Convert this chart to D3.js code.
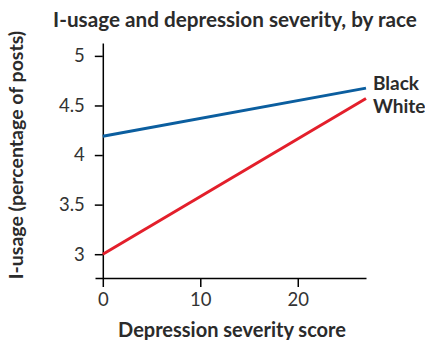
<!DOCTYPE html>
<html>
<head>
<meta charset="utf-8">
<script src="https://cdn.jsdelivr.net/npm/d3@7"></script>
<style>
  body { margin: 0; background: #fff; }
  text { font-family: Lato, sans-serif; fill: #2b2b2b; }
  .axis path, .axis line { stroke: #000; stroke-width: 1.5; }
  .axis text { font-size: 18.5px; fill: #333; }
</style>
</head>
<body>
<div id="chart"></div>
<script>
// DATA
const races = ["Black", "White"];
const severity = [0, 27];
const blackUsage = [4.19, 4.675];
const whiteUsage = [3.0, 4.57];
const xTicks = [0, 10, 20];
const yTicks = [3, 3.5, 4, 4.5, 5];
const lineColors = ["#0b5e9f", "#e31f2b"];

const width = 425, height = 340;
const margin = { top: 43, right: 59, bottom: 62, left: 95 };

const svg = d3.select("#chart").append("svg")
    .attr("width", width)
    .attr("height", height);

const x = d3.scaleLinear()
    .domain([-0.8, 27])
    .range([margin.left, width - margin.right]);

const y = d3.scaleLinear()
    .domain([2.76, 5.13])
    .range([height - margin.bottom, margin.top]);

// AXES
svg.append("g")
    .attr("class", "axis")
    .attr("transform", `translate(0, ${y(2.76)})`)
    .call(d3.axisBottom(x).tickValues(xTicks).tickSize(9).tickSizeOuter(0).tickPadding(4))
    .selectAll("text").attr("dy", "0.8em");

svg.append("g")
    .attr("class", "axis")
    .attr("transform", `translate(${x(0)}, 0)`)
    .call(d3.axisLeft(y).tickValues(yTicks).tickSize(8).tickSizeOuter(0).tickPadding(10).tickFormat(d3.format("")));

// LINES
const series = [blackUsage, whiteUsage];
const line = d3.line()
    .x((d, i) => x(severity[i]))
    .y(d => y(d));

svg.selectAll(".race-line")
    .data(series)
    .enter().append("path")
    .attr("class", "race-line")
    .attr("d", d => line(d))
    .attr("fill", "none")
    .attr("stroke", (d, i) => lineColors[i])
    .attr("stroke-width", 3);

// LABELS
svg.selectAll(".race-label")
    .data(races)
    .enter().append("text")
    .attr("class", "race-label")
    .attr("x", x(27) + 7)
    .attr("y", (d, i) => i === 0 ? 90 : 113)
    .style("font-size", "19px")
    .style("font-weight", "bold")
    .text(d => d);

svg.append("text")
    .attr("x", 235)
    .attr("y", 27)
    .attr("text-anchor", "middle")
    .style("font-size", "20.7px")
    .style("font-weight", "bold")
    .text("I-usage and depression severity, by race");

svg.append("text")
    .attr("x", 232)
    .attr("y", 337)
    .attr("text-anchor", "middle")
    .style("font-size", "20px")
    .style("font-weight", "bold")
    .text("Depression severity score");

svg.append("text")
    .attr("transform", `translate(23, 155) rotate(-90)`)
    .attr("text-anchor", "middle")
    .style("font-size", "19.5px")
    .style("font-weight", "bold")
    .text("I-usage (percentage of posts)");
</script>
</body>
</html>
